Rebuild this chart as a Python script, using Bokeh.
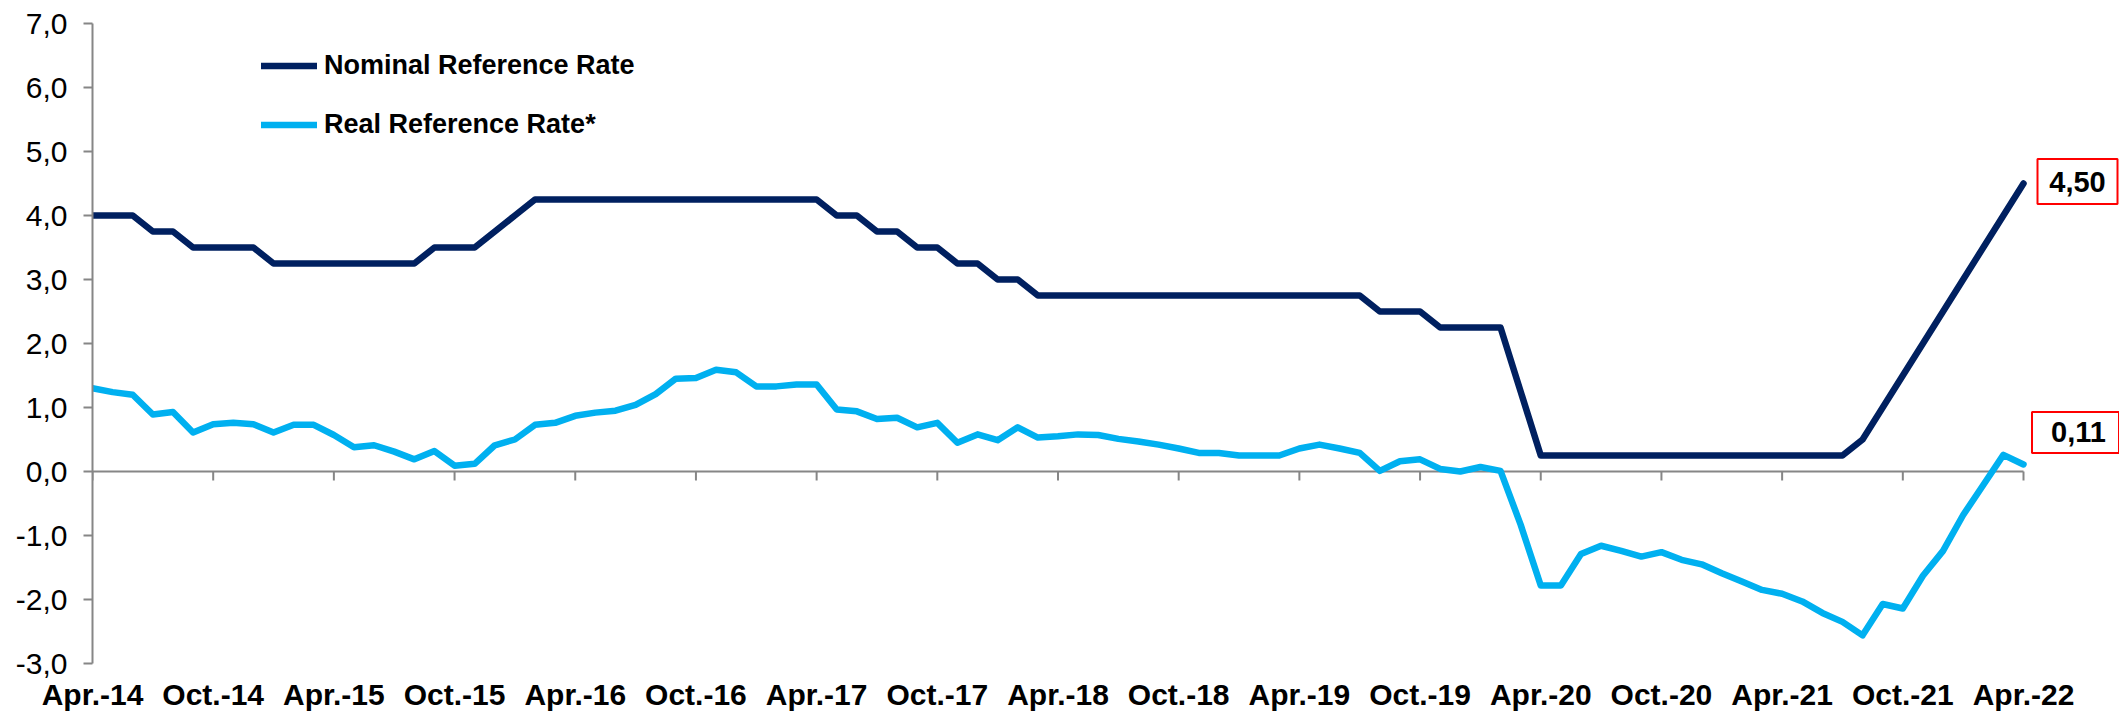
from bokeh.plotting import figure
from bokeh.models import FixedTicker, Legend, LegendItem, Range1d
from bokeh.core.properties import value
from bokeh.embed import file_html
from bokeh.resources import INLINE

# ---- data (monthly, Apr-2014 .. Apr-2022) ----
nominal = [4.0, 4.0, 4.0, 3.75, 3.75, 3.5, 3.5, 3.5, 3.5, 3.25,
           3.25, 3.25, 3.25, 3.25, 3.25, 3.25, 3.25, 3.5, 3.5, 3.5,
           3.75, 4.0, 4.25, 4.25, 4.25, 4.25, 4.25, 4.25, 4.25, 4.25,
           4.25, 4.25, 4.25, 4.25, 4.25, 4.25, 4.25, 4.0, 4.0, 3.75,
           3.75, 3.5, 3.5, 3.25, 3.25, 3.0, 3.0, 2.75, 2.75, 2.75,
           2.75, 2.75, 2.75, 2.75, 2.75, 2.75, 2.75, 2.75, 2.75, 2.75,
           2.75, 2.75, 2.75, 2.75, 2.5, 2.5, 2.5, 2.25, 2.25, 2.25,
           2.25, 1.25, 0.25, 0.25, 0.25, 0.25, 0.25, 0.25, 0.25, 0.25,
           0.25, 0.25, 0.25, 0.25, 0.25, 0.25, 0.25, 0.25, 0.5, 1.0,
           1.5, 2.0, 2.5, 3.0, 3.5, 4.0, 4.5]

real = [1.30, 1.24, 1.20, 0.89, 0.93, 0.61, 0.74, 0.76, 0.74, 0.61,
        0.73, 0.73, 0.57, 0.38, 0.41, 0.31, 0.19, 0.32, 0.09, 0.12,
        0.41, 0.50, 0.73, 0.76, 0.87, 0.92, 0.95, 1.04, 1.21, 1.45,
        1.46, 1.59, 1.55, 1.33, 1.33, 1.36, 1.36, 0.97, 0.94, 0.82,
        0.84, 0.69, 0.76, 0.45, 0.58, 0.49, 0.69, 0.53, 0.55, 0.58,
        0.57, 0.51, 0.47, 0.42, 0.36, 0.29, 0.29, 0.25, 0.25, 0.25,
        0.36, 0.42, 0.36, 0.29, 0.01, 0.16, 0.19, 0.04, 0.00, 0.07,
        0.01, -0.83, -1.78, -1.78, -1.29, -1.16, -1.24, -1.33, -1.26, -1.38,
        -1.45, -1.59, -1.72, -1.85, -1.91, -2.03, -2.21, -2.35, -2.56, -2.07,
        -2.14, -1.63, -1.24, -0.68, -0.21, 0.26, 0.11]

tick_labels = ["Apr.-14", "Oct.-14", "Apr.-15", "Oct.-15", "Apr.-16", "Oct.-16",
               "Apr.-17", "Oct.-17", "Apr.-18", "Oct.-18", "Apr.-19", "Oct.-19",
               "Apr.-20", "Oct.-20", "Apr.-21", "Oct.-21", "Apr.-22"]
tick_step = 6
y_ticks = [-3, -2, -1, 0, 1, 2, 3, 4, 5, 6, 7]

series_names = ["Nominal Reference Rate", "Real Reference Rate*"]

x = list(range(len(nominal)))
x_ticks = [i * tick_step for i in range(len(tick_labels))]

FONT = "Liberation Sans"
NAVY = "#002060"
CYAN = "#00B0F0"
GRAY = "#868686"

W, H = 2119, 714
B_LEFT, B_TOP, B_BOTTOM = 92, 23, 51
DATA_RIGHT = 2023          # pixel where the last month sits
frame_h = H - B_TOP - B_BOTTOM
px_per_step = (DATA_RIGHT - B_LEFT) / (x[-1] - x[0])
px_per_unit = frame_h / (y_ticks[-1] - y_ticks[0])
x_end = x[-1] + (W - DATA_RIGHT) / px_per_step   # room on the right for value labels

p = figure(width=W, height=H, output_backend="svg", toolbar_location=None,
           x_range=Range1d(x[0], x_end), y_range=Range1d(y_ticks[0], y_ticks[-1]),
           min_border_left=B_LEFT, min_border_right=0,
           min_border_top=B_TOP, min_border_bottom=B_BOTTOM)
p.outline_line_color = None
p.grid.visible = False
p.background_fill_color = "white"
p.border_fill_color = "white"

# y axis
p.yaxis.ticker = FixedTicker(ticks=y_ticks)
p.yaxis.major_label_overrides = {v: f"{v:.1f}".replace(".", ",") for v in y_ticks}
p.yaxis.axis_line_color = GRAY
p.yaxis.axis_line_width = 2
p.yaxis.major_tick_line_color = GRAY
p.yaxis.major_tick_line_width = 2
p.yaxis.major_tick_out = 9
p.yaxis.major_tick_in = 0
p.yaxis.minor_tick_line_color = None
p.yaxis.major_label_text_font = FONT
p.yaxis.major_label_text_font_size = "30px"
p.yaxis.major_label_text_color = "black"
p.yaxis.major_label_standoff = 16

# x axis (labels at bottom, line drawn at zero)
p.xaxis.ticker = FixedTicker(ticks=x_ticks)
p.xaxis.major_label_overrides = {t: lab for t, lab in zip(x_ticks, tick_labels)}
p.xaxis.axis_line_color = None
p.xaxis.major_tick_line_color = None
p.xaxis.minor_tick_line_color = None
p.xaxis.major_label_text_font = FONT
p.xaxis.major_label_text_font_size = "30px"
p.xaxis.major_label_text_font_style = "bold"
p.xaxis.major_label_text_color = "black"
p.xaxis.major_label_standoff = 8

# zero line with downward tick marks
p.segment(x0=[x[0]], y0=[0], x1=[x[-1]], y1=[0], line_color=GRAY, line_width=2)
tick_len = 9 / px_per_unit
p.segment(x0=x_ticks, y0=[0] * len(x_ticks), x1=x_ticks, y1=[-tick_len] * len(x_ticks),
          line_color=GRAY, line_width=2)

r_nom = p.line(x, nominal, line_color=NAVY, line_width=6.5, line_join="round", line_cap="round")
r_real = p.line(x, real, line_color=CYAN, line_width=6.5, line_join="round", line_cap="round")

legend = Legend(items=[LegendItem(label=series_names[0], renderers=[r_nom]),
                       LegendItem(label=series_names[1], renderers=[r_real])],
                location=(169, frame_h - 117), orientation="vertical",
                padding=0, margin=0, spacing=28,
                label_height=31, glyph_height=31, glyph_width=56, label_standoff=7,
                label_text_font=FONT, label_text_font_size="27px",
                label_text_font_style="bold", label_text_color="black",
                border_line_color=None, background_fill_alpha=0)
p.add_layout(legend)

# end-of-series value labels in red boxes
def fmt(v):
    return f"{v:.2f}".replace(".", ",")

end_values = [nominal[-1], real[-1]]
box_cx_px = [2077, 2075]
text_cx_px = [2077, 2078]
box_w = [80, 87]
box_h = [45, 41]
box_shift_px = [2, 32]          # upward shift of the box from the value

box_x = [x[-1] + (c - DATA_RIGHT) / px_per_step for c in box_cx_px]
text_x = [x[-1] + (c - DATA_RIGHT) / px_per_step for c in text_cx_px]
box_y = [v + s / px_per_unit for v, s in zip(end_values, box_shift_px)]

p.rect(x=box_x, y=box_y, width=box_w, height=box_h,
       width_units="screen", height_units="screen",
       fill_color="white", line_color="#FF0000", line_width=2)
p.text(x=text_x, y=box_y, text=[fmt(v) for v in end_values],
       text_align="center", text_baseline="middle",
       text_font=value(FONT), text_font_size=value("29px"), text_font_style="bold",
       text_color="black")

open("out.html", "w").write(file_html(p, INLINE))
